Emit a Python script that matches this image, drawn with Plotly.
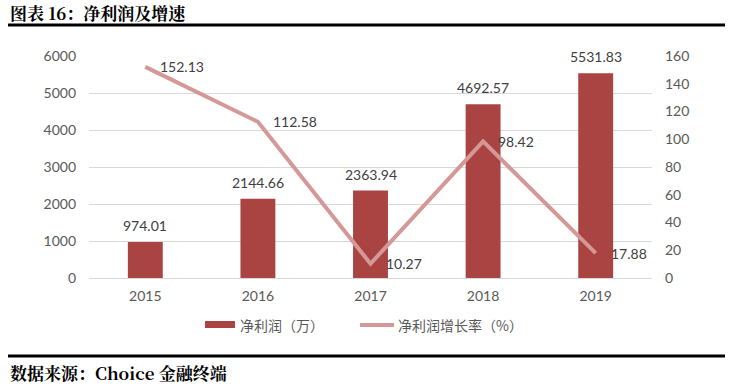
import plotly.graph_objects as go

years = ["2015", "2016", "2017", "2018", "2019"]
net_profit = [974.01, 2144.66, 2363.94, 4692.57, 5531.83]
growth = [152.13, 112.58, 10.27, 98.42, 17.88]
left_ticks = [0, 1000, 2000, 3000, 4000, 5000, 6000]
right_ticks = [0, 20, 40, 60, 80, 100, 120, 140, 160]
series_names = ["净利润（万）", "净利润增长率（%）"]

BAR = "#A94442"
LINE = "#D49896"
TXT = "#404040"
TICK = "#595959"
FONT = "Lato, 'Noto Sans CJK SC', sans-serif"
CJK = "'Noto Sans CJK SC', sans-serif"
SERIF = "'Noto Serif CJK SC', 'Noto Sans CJK SC', serif"

L, R, T, B = 89, 83, 56, 109
W, H = 735, 387
PW, PH = W - L - R, H - T - B


def px(x):
    return (x - L) / PW


def py(y):
    return (H - B - y) / PH


fig = go.Figure()
fig.add_trace(go.Bar(
    x=years, y=net_profit, name=series_names[0],
    marker=dict(color=BAR, line=dict(width=0)),
    width=0.31, showlegend=False,
))
fig.add_trace(go.Scatter(
    x=years, y=growth, name=series_names[1], yaxis="y2",
    mode="lines", line=dict(color=LINE, width=4), showlegend=False,
))
for i, v in enumerate(net_profit):
    fig.add_annotation(x=i, y=v, text=f"{v:.2f}", showarrow=False,
                       xanchor="center", yanchor="bottom", yshift=6,
                       font=dict(size=14, color=TXT, family=FONT))
for i, g in enumerate(growth):
    fig.add_annotation(x=i, y=g, yref="y2", text=f"{g:.2f}", showarrow=False,
                       xanchor="left", yanchor="middle", xshift=13, yshift=0,
                       font=dict(size=14, color=TXT, family=FONT))

# custom legend
shapes = [
    dict(type="line", xref="paper", yref="paper", x0=px(8), x1=px(725),
         y0=py(25), y1=py(25), line=dict(color="black", width=3)),
    dict(type="line", xref="paper", yref="paper", x0=px(8), x1=px(725),
         y0=py(356), y1=py(356), line=dict(color="black", width=3)),
    dict(type="rect", xref="paper", yref="paper", x0=px(205), x1=px(235),
         y0=py(328), y1=py(321), fillcolor=BAR, line=dict(width=0)),
    dict(type="line", xref="paper", yref="paper", x0=px(360), x1=px(394),
         y0=py(325), y1=py(325), line=dict(color=LINE, width=4)),
]
fig.add_annotation(xref="paper", yref="paper", x=px(238), y=py(325), text=series_names[0],
                   xanchor="left", yanchor="middle", showarrow=False,
                   font=dict(size=14, color=TICK, family=CJK))
fig.add_annotation(xref="paper", yref="paper", x=px(396), y=py(325), text=series_names[1],
                   xanchor="left", yanchor="middle", showarrow=False,
                   font=dict(size=14, color=TICK, family=CJK))

fig.update_layout(
    width=W, height=H,
    margin=dict(l=L, r=R, t=T, b=B),
    paper_bgcolor="white", plot_bgcolor="white",
    font=dict(family=FONT, size=13, color=TICK),
    showlegend=False,
    xaxis=dict(type="category", range=[-0.5, 4.5], showgrid=False, showline=False, ticks="",
               tickfont=dict(size=14, color=TICK), ticklabelstandoff=8),
    yaxis=dict(range=[0, 6000], tickvals=left_ticks, showgrid=True, gridcolor="#D9D9D9",
               gridwidth=1, zeroline=True, zerolinecolor="#D9D9D9", zerolinewidth=1,
               showline=False, ticks="", tickfont=dict(size=14, color=TICK),
               ticklabelstandoff=12),
    yaxis2=dict(range=[0, 160], tickvals=right_ticks, overlaying="y", side="right",
                showgrid=False, zeroline=False, showline=False, ticks="",
                tickfont=dict(size=14, color=TICK), ticklabelstandoff=12),
    shapes=shapes,
)
fig.add_annotation(xref="paper", yref="paper", x=px(8), y=py(12),
                   xanchor="left", yanchor="middle", showarrow=False,
                   text="<b>图表 16：净利润及增速</b>",
                   font=dict(size=17, color="black", family=SERIF))
fig.add_annotation(xref="paper", yref="paper", x=px(8), y=py(372),
                   xanchor="left", yanchor="middle", showarrow=False,
                   text="<b>数据来源：Choice 金融终端</b>",
                   font=dict(size=17, color="black", family=SERIF))

fig.write_html("out.html", config={"displayModeBar": False},
               post_script="document.body.style.margin='0';")
